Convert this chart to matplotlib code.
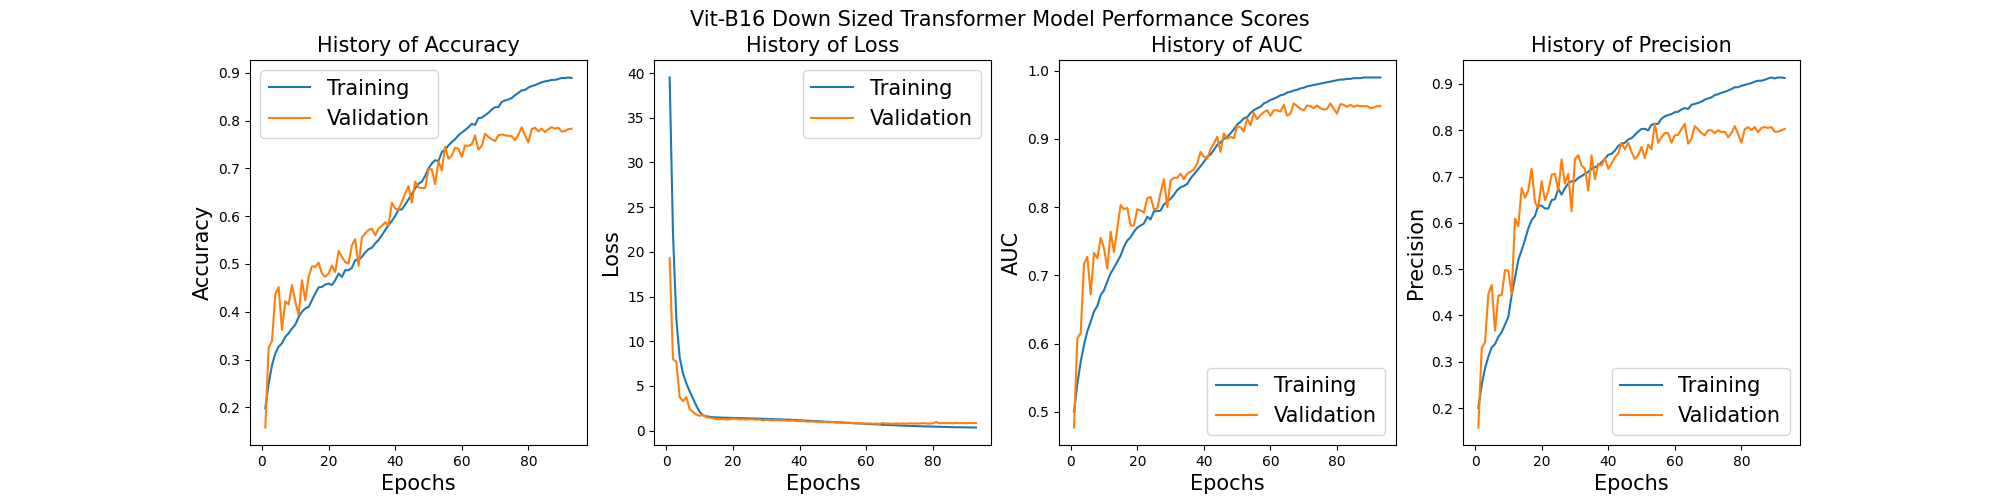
import matplotlib
matplotlib.use("Agg")
import matplotlib.pyplot as plt
import numpy as np

epochs = np.arange(1, 94)

train_acc = [0.198, 0.25, 0.288, 0.313, 0.327, 0.334, 0.348, 0.355, 0.365, 0.373,
             0.389, 0.40, 0.407, 0.41, 0.424, 0.438, 0.451, 0.452, 0.457, 0.459,
             0.456, 0.466, 0.48, 0.473, 0.487, 0.487, 0.492, 0.508, 0.508, 0.515,
             0.524, 0.531, 0.534, 0.543, 0.55, 0.56, 0.571, 0.581, 0.59, 0.60,
             0.614, 0.614, 0.624, 0.635, 0.646, 0.658, 0.668, 0.672, 0.684, 0.70,
             0.71, 0.717, 0.715, 0.734, 0.739, 0.748, 0.755, 0.761, 0.769, 0.775,
             0.78, 0.786, 0.793, 0.791, 0.805, 0.806, 0.811, 0.816, 0.823, 0.828,
             0.828, 0.839, 0.842, 0.844, 0.847, 0.853, 0.858, 0.863, 0.864, 0.869,
             0.872, 0.874, 0.877, 0.88, 0.882, 0.883, 0.885, 0.885, 0.887, 0.889,
             0.889, 0.89, 0.889]
val_acc = [0.158, 0.325, 0.339, 0.436, 0.452, 0.362, 0.422, 0.415, 0.456, 0.422,
           0.393, 0.466, 0.424, 0.473, 0.495, 0.494, 0.503, 0.48, 0.473, 0.48,
           0.497, 0.483, 0.527, 0.515, 0.504, 0.501, 0.539, 0.552, 0.496, 0.555,
           0.564, 0.571, 0.574, 0.56, 0.574, 0.58, 0.587, 0.581, 0.628, 0.616,
           0.614, 0.63, 0.647, 0.663, 0.628, 0.672, 0.66, 0.659, 0.659, 0.698,
           0.698, 0.667, 0.715, 0.696, 0.745, 0.72, 0.727, 0.743, 0.741, 0.724,
           0.748, 0.747, 0.75, 0.769, 0.739, 0.747, 0.772, 0.766, 0.761, 0.757,
           0.769, 0.771, 0.769, 0.768, 0.767, 0.759, 0.77, 0.786, 0.769, 0.754,
           0.782, 0.785, 0.777, 0.783, 0.776, 0.782, 0.786, 0.783, 0.785, 0.777,
           0.778, 0.782, 0.783]

train_loss = [39.5, 22.0, 12.5, 8.2, 6.4, 5.3, 4.4, 3.6, 2.8, 2.1,
              1.7, 1.6, 1.55, 1.5, 1.48, 1.46, 1.45, 1.44, 1.43, 1.42,
              1.41, 1.40, 1.39, 1.38, 1.37, 1.36, 1.35, 1.34, 1.32, 1.31,
              1.30, 1.28, 1.27, 1.26, 1.25, 1.23, 1.22, 1.20, 1.18, 1.16,
              1.14, 1.12, 1.10, 1.08, 1.06, 1.04, 1.02, 1.00, 0.98, 0.96,
              0.94, 0.92, 0.90, 0.88, 0.86, 0.84, 0.82, 0.80, 0.78, 0.76,
              0.74, 0.72, 0.70, 0.68, 0.66, 0.64, 0.62, 0.61, 0.59, 0.58,
              0.56, 0.55, 0.53, 0.52, 0.51, 0.49, 0.48, 0.47, 0.46, 0.45,
              0.44, 0.43, 0.42, 0.41, 0.40, 0.39, 0.38, 0.38, 0.37, 0.36,
              0.36, 0.35, 0.35]
val_loss = [19.3, 8.0, 7.7, 3.75, 3.3, 3.75, 2.4, 2.1, 1.8, 1.65,
            1.8, 1.5, 1.45, 1.38, 1.30, 1.28, 1.30, 1.25, 1.27, 1.32,
            1.30, 1.26, 1.28, 1.24, 1.27, 1.26, 1.22, 1.24, 1.12, 1.20,
            1.18, 1.15, 1.17, 1.14, 1.16, 1.12, 1.10, 1.13, 1.08, 1.06,
            1.08, 1.02, 1.00, 1.03, 0.98, 0.96, 0.99, 0.95, 0.93, 0.96,
            0.90, 0.92, 0.88, 0.86, 0.89, 0.84, 0.82, 0.85, 0.80, 0.78,
            0.81, 0.77, 0.79, 0.75, 0.86, 0.78, 0.80, 0.76, 0.82, 0.78,
            0.80, 0.77, 0.83, 0.79, 0.81, 0.78, 0.84, 0.80, 0.78, 0.82,
            0.95, 0.83, 0.86, 0.84, 0.85, 0.82, 0.86, 0.84, 0.85, 0.83,
            0.86, 0.86, 0.85]

train_auc = [0.50, 0.541, 0.573, 0.598, 0.618, 0.632, 0.647, 0.655, 0.671, 0.678,
             0.691, 0.703, 0.711, 0.72, 0.729, 0.742, 0.751, 0.756, 0.764, 0.77,
             0.773, 0.776, 0.786, 0.782, 0.794, 0.794, 0.795, 0.804, 0.808, 0.812,
             0.818, 0.825, 0.829, 0.831, 0.834, 0.842, 0.848, 0.854, 0.86, 0.866,
             0.874, 0.877, 0.884, 0.891, 0.895, 0.90, 0.903, 0.908, 0.914, 0.921,
             0.925, 0.93, 0.932, 0.938, 0.942, 0.945, 0.947, 0.952, 0.954, 0.957,
             0.959, 0.961, 0.964, 0.965, 0.968, 0.969, 0.971, 0.972, 0.974, 0.975,
             0.977, 0.978, 0.979, 0.98, 0.981, 0.982, 0.983, 0.984, 0.985, 0.986,
             0.987, 0.987, 0.988, 0.988, 0.989, 0.989, 0.989, 0.99, 0.99, 0.99,
             0.99, 0.99, 0.99]
val_auc = [0.477, 0.608, 0.615, 0.717, 0.727, 0.672, 0.733, 0.725, 0.755, 0.74,
           0.71, 0.764, 0.734, 0.769, 0.803, 0.797, 0.799, 0.773, 0.773, 0.797,
           0.795, 0.792, 0.813, 0.815, 0.797, 0.798, 0.821, 0.841, 0.80, 0.839,
           0.843, 0.843, 0.849, 0.841, 0.849, 0.852, 0.855, 0.864, 0.881, 0.874,
           0.871, 0.885, 0.893, 0.903, 0.881, 0.908, 0.90, 0.903, 0.901, 0.919,
           0.917, 0.911, 0.93, 0.92, 0.938, 0.929, 0.935, 0.939, 0.942, 0.934,
           0.942, 0.942, 0.94, 0.95, 0.934, 0.937, 0.952, 0.948, 0.944, 0.942,
           0.949, 0.948, 0.945, 0.949, 0.945, 0.943, 0.944, 0.952, 0.944, 0.937,
           0.951, 0.95, 0.947, 0.95, 0.947, 0.949, 0.948, 0.948, 0.948, 0.945,
           0.946, 0.948, 0.948]

train_prec = [0.20, 0.25, 0.286, 0.311, 0.331, 0.338, 0.354, 0.364, 0.38, 0.397,
              0.444, 0.481, 0.52, 0.541, 0.563, 0.588, 0.606, 0.615, 0.638, 0.637,
              0.631, 0.631, 0.649, 0.651, 0.674, 0.661, 0.675, 0.685, 0.69, 0.69,
              0.697, 0.701, 0.706, 0.71, 0.717, 0.72, 0.724, 0.731, 0.738, 0.747,
              0.749, 0.756, 0.766, 0.771, 0.773, 0.78, 0.783, 0.79, 0.797, 0.803,
              0.803, 0.80, 0.812, 0.814, 0.814, 0.825, 0.83, 0.833, 0.835, 0.839,
              0.84, 0.845, 0.848, 0.846, 0.855, 0.857, 0.859, 0.862, 0.866, 0.869,
              0.871, 0.876, 0.878, 0.881, 0.883, 0.886, 0.889, 0.893, 0.893, 0.896,
              0.898, 0.90, 0.902, 0.905, 0.907, 0.907, 0.909, 0.912, 0.914, 0.912,
              0.914, 0.914, 0.913]
val_prec = [0.158, 0.329, 0.342, 0.446, 0.466, 0.367, 0.443, 0.444, 0.498, 0.496,
            0.446, 0.609, 0.593, 0.675, 0.654, 0.67, 0.717, 0.645, 0.632, 0.69,
            0.649, 0.668, 0.704, 0.706, 0.67, 0.737, 0.685, 0.706, 0.625, 0.738,
            0.746, 0.724, 0.717, 0.67, 0.746, 0.694, 0.728, 0.724, 0.74, 0.717,
            0.728, 0.742, 0.749, 0.773, 0.759, 0.773, 0.753, 0.738, 0.746, 0.764,
            0.74, 0.769, 0.759, 0.814, 0.773, 0.785, 0.794, 0.794, 0.773, 0.789,
            0.79, 0.803, 0.814, 0.771, 0.782, 0.809, 0.802, 0.794, 0.789, 0.80,
            0.80, 0.794, 0.80, 0.796, 0.797, 0.785, 0.794, 0.809, 0.792, 0.773,
            0.802, 0.807, 0.80, 0.807, 0.796, 0.805, 0.807, 0.805, 0.807, 0.797,
            0.797, 0.80, 0.803]

panels = [
    ("Accuracy", train_acc, val_acc, "upper left"),
    ("Loss", train_loss, val_loss, "upper right"),
    ("AUC", train_auc, val_auc, "lower right"),
    ("Precision", train_prec, val_prec, "lower right"),
]

fig, axes = plt.subplots(1, 4, figsize=(20, 5))
fig.suptitle("Vit-B16 Down Sized Transformer Model Performance Scores", fontsize=15)
for ax, (name, tr, va, loc) in zip(axes, panels):
    ax.plot(epochs, tr, label="Training")
    ax.plot(epochs, va, label="Validation")
    ax.set_title(f"History of {name}", fontsize=15)
    ax.set_xlabel("Epochs", fontsize=15)
    ax.set_ylabel(name, fontsize=15)
    ax.legend(loc=loc, fontsize=15)

fig.savefig("out.png", dpi=100)
